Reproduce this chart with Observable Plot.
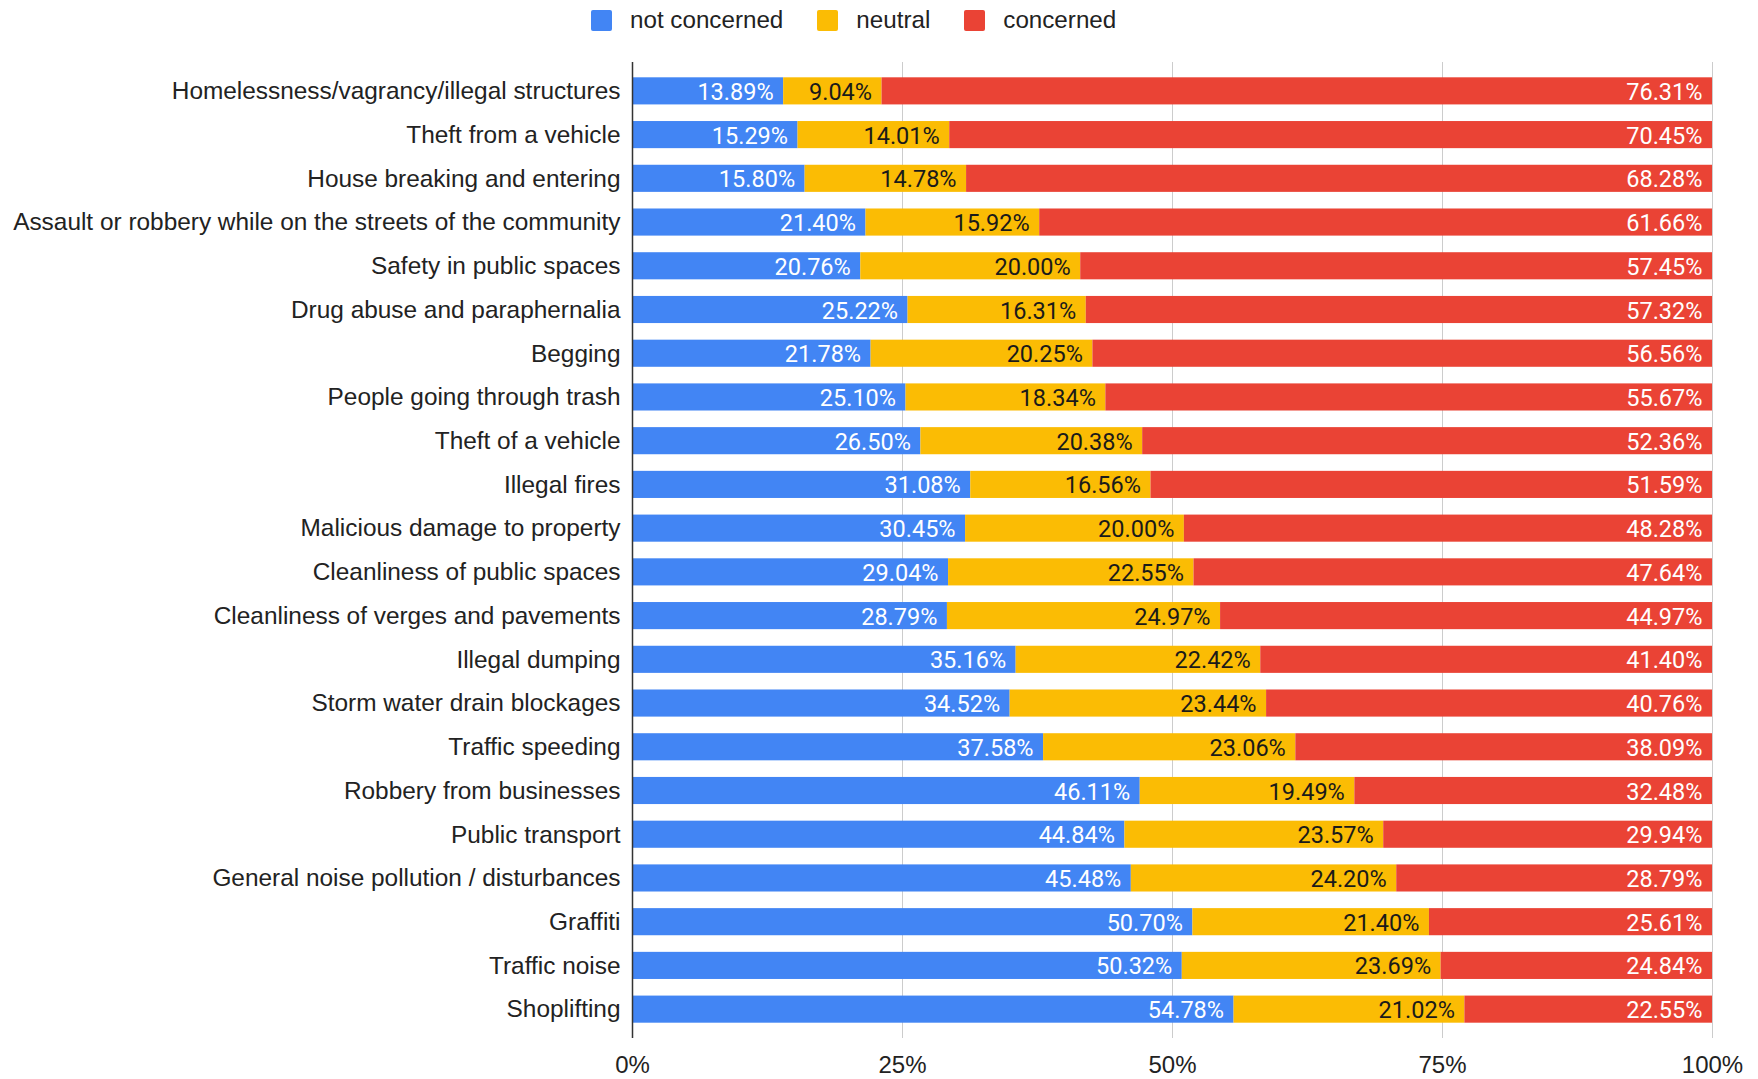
<!DOCTYPE html>
<html>
<head>
<meta charset="utf-8">
<script src="https://cdn.jsdelivr.net/npm/d3@7"></script>
<script src="https://cdn.jsdelivr.net/npm/@observablehq/plot@0.6"></script>
<style>
  html, body { margin: 0; padding: 0; background: #fff; }
  #legend { height: 40px; display: flex; align-items: center; padding-left: 591px; box-sizing: border-box;
    font-family: "Liberation Sans", Arial, sans-serif; font-size: 24.2px; color: #222; }
  .item { display: flex; align-items: center; margin-right: 34px; }
  .sw { width: 21px; height: 21px; border-radius: 2px; margin-right: 18px; }
  #chart svg { display: block; }
</style>
</head>
<body>
<div id="legend"></div>
<div id="chart"></div>
<script>
const categories = [
  "Homelessness/vagrancy/illegal structures",
  "Theft from a vehicle",
  "House breaking and entering",
  "Assault or robbery while on the streets of the community",
  "Safety in public spaces",
  "Drug abuse and paraphernalia",
  "Begging",
  "People going through trash",
  "Theft of a vehicle",
  "Illegal fires",
  "Malicious damage to property",
  "Cleanliness of public spaces",
  "Cleanliness of verges and pavements",
  "Illegal dumping",
  "Storm water drain blockages",
  "Traffic speeding",
  "Robbery from businesses",
  "Public transport",
  "General noise pollution / disturbances",
  "Graffiti",
  "Traffic noise",
  "Shoplifting"
];
const notConcerned = [13.89, 15.29, 15.80, 21.40, 20.76, 25.22, 21.78, 25.10, 26.50, 31.08, 30.45, 29.04, 28.79, 35.16, 34.52, 37.58, 46.11, 44.84, 45.48, 50.70, 50.32, 54.78];
const neutral      = [9.04, 14.01, 14.78, 15.92, 20.00, 16.31, 20.25, 18.34, 20.38, 16.56, 20.00, 22.55, 24.97, 22.42, 23.44, 23.06, 19.49, 23.57, 24.20, 21.40, 23.69, 21.02];
const concerned    = [76.31, 70.45, 68.28, 61.66, 57.45, 57.32, 56.56, 55.67, 52.36, 51.59, 48.28, 47.64, 44.97, 41.40, 40.76, 38.09, 32.48, 29.94, 28.79, 25.61, 24.84, 22.55];
const seriesNames = ["not concerned", "neutral", "concerned"];
const seriesColors = ["#4285F4", "#FBBC04", "#EA4335"];
const xTicks = [0, 0.25, 0.5, 0.75, 1];
const xTickLabels = ["0%", "25%", "50%", "75%", "100%"];

const seriesValues = [notConcerned, neutral, concerned];
const data = [];
categories.forEach((c, i) => {
  seriesNames.forEach((s, j) => data.push({category: c, series: s, value: seriesValues[j][i]}));
});

// legend
const legend = document.getElementById("legend");
seriesNames.forEach((s, j) => {
  const it = document.createElement("div");
  it.className = "item";
  const sw = document.createElement("div");
  sw.className = "sw";
  sw.style.background = seriesColors[j];
  const tx = document.createElement("span");
  tx.textContent = s;
  it.appendChild(sw); it.appendChild(tx);
  legend.appendChild(it);
});

const stackOpts = {x: "value", y: "category", z: "series", order: seriesNames, offset: "normalize"};
const labelFmt = d => d.value.toFixed(2) + "%";
const fmtTick = d => xTickLabels[xTicks.indexOf(d)];

const chart = Plot.plot({
  width: 1758,
  height: 1039,
  marginLeft: 632,
  marginRight: 46,
  marginTop: 29,
  marginBottom: 48,
  style: {fontFamily: "'Liberation Sans', Arial, sans-serif", fontSize: "24px", color: "#222", background: "#fff"},
  x: {domain: [0, 1], ticks: xTicks, tickFormat: fmtTick, label: null},
  y: {domain: categories, paddingInner: 0.38, paddingOuter: 0.19, round: false, label: null},
  color: {domain: seriesNames, range: seriesColors},
  marks: [
    Plot.ruleX(xTicks.slice(1), {stroke: "#cccccc", strokeWidth: 1, insetTop: -7, insetBottom: -7}),
    Plot.barX(data, Plot.stackX({...stackOpts, fill: "series", inset: 0})),
    Plot.text(data, Plot.filter(d => d.series !== "neutral", Plot.stackX2({...stackOpts, text: labelFmt, textAnchor: "end", dx: -10, dy: 1, fill: "#ffffff", fontFamily: "Roboto", fontSize: 23.5}))),
    Plot.text(data, Plot.filter(d => d.series === "neutral", Plot.stackX2({...stackOpts, text: labelFmt, textAnchor: "end", dx: -10, dy: 1, fill: "#1a1a1a", fontFamily: "Roboto", fontSize: 23.5}))),
    Plot.ruleX([0], {stroke: "#333", strokeWidth: 1.5, insetTop: -7, insetBottom: -7}),
    Plot.axisY({tickSize: 0, tickPadding: 12, fontSize: 24.4, label: null}),
    Plot.axisX({ticks: xTicks, tickFormat: fmtTick, tickSize: 0, tickPadding: 24, fontSize: 24, label: null})
  ]
});
document.getElementById("chart").appendChild(chart);
</script>
</body>
</html>
